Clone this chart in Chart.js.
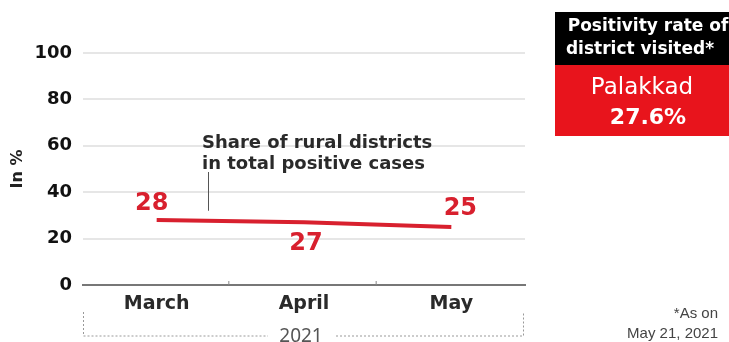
<!DOCTYPE html>
<html>
<head>
<meta charset="utf-8">
<script src="https://cdn.jsdelivr.net/npm/chart.js@4/dist/chart.umd.min.js"></script>
<style>
  html, body { margin: 0; padding: 0; background: #fff; }
  #wrap { width: 729px; height: 342px; position: relative; }
</style>
</head>
<body>
<div id="wrap"><canvas id="chart" width="729" height="342"></canvas></div>
<script>
// Share of rural districts in total positive cases, 2021
const months = ['March', 'April', 'May'];
const ruralShare = [28, 27, 25];
const yTicks = [0, 20, 40, 60, 80, 100];
const yearLabel = '2021';
const noteTitle = ['Positivity rate of', 'district visited*'];
const noteDistrict = 'Palakkad';
const noteRate = 27.6;
const footnote = ['*As on', 'May 21, 2021'];

const RED = '#d8202e';
const BOLD = '"DejaVu Sans", sans-serif';

// value labels: offsets per point (above / below the line)
const labelPlacement = [
    {dx: -5, dy: -10, base: 'alphabetic'},
    {dx: 2, dy: 9, base: 'top'},
    {dx: 9, dy: -12, base: 'alphabetic'},
];

const extras = {
    id: 'extras',
    afterDatasetsDraw(chart) {
        const {ctx, scales: {x, y}} = chart;
        const meta = chart.getDatasetMeta(0);
        ctx.save();

        // value labels
        ctx.fillStyle = RED;
        ctx.font = 'bold 24px ' + BOLD;
        ctx.textAlign = 'center';
        meta.data.forEach((pt, i) => {
            const p = labelPlacement[i];
            ctx.textBaseline = p.base;
            ctx.fillText(String(ruralShare[i]), pt.x + p.dx, pt.y + p.dy);
        });

        // small ticks on the baseline between months
        const base = y.getPixelForValue(0);
        ctx.strokeStyle = '#888';
        ctx.lineWidth = 1;
        for (let i = 0; i < months.length - 1; i++) {
            const bx = (x.getPixelForValue(i) + x.getPixelForValue(i + 1)) / 2 - 2;
            ctx.beginPath();
            ctx.moveTo(bx + 0.5, base);
            ctx.lineTo(bx + 0.5, base - 4);
            ctx.stroke();
        }

        // series annotation with leader line
        const ax = 208;
        ctx.fillStyle = '#2a2a2a';
        ctx.font = 'bold 18px ' + BOLD;
        ctx.textAlign = 'left';
        ctx.textBaseline = 'alphabetic';
        ctx.fillText('Share of rural districts', ax - 6, 148);
        ctx.fillText('in total positive cases', ax - 6, 169);
        ctx.strokeStyle = '#555';
        ctx.beginPath();
        ctx.moveTo(ax + 0.5, 172);
        ctx.lineTo(ax + 0.5, y.getPixelForValue(32));
        ctx.stroke();

        // year bracket under the months
        const bTop = 312, bBot = 336;
        const left = chart.chartArea.left, right = chart.chartArea.right - 2;
        const mid = x.getPixelForValue(1);
        ctx.strokeStyle = '#999';
        ctx.setLineDash([2, 2]);
        ctx.beginPath();
        ctx.moveTo(left + 0.5, bTop);
        ctx.lineTo(left + 0.5, bBot);
        ctx.lineTo(mid - 36, bBot);
        ctx.moveTo(mid + 32, bBot);
        ctx.lineTo(right + 0.5, bBot);
        ctx.lineTo(right + 0.5, bTop);
        ctx.stroke();
        ctx.setLineDash([]);
        ctx.fillStyle = '#555';
        ctx.font = '19px "Noto Sans", sans-serif';
        ctx.textAlign = 'center';
        ctx.textBaseline = 'alphabetic';
        ctx.fillText(yearLabel, mid - 3, 342);

        // side note box
        ctx.fillStyle = '#000';
        ctx.fillRect(555, 12, 174, 53);
        ctx.fillStyle = '#e8141c';
        ctx.fillRect(555, 65, 174, 71);
        ctx.fillStyle = '#fff';
        ctx.font = 'bold 17px ' + BOLD;
        ctx.fillText(noteTitle[0], 648, 31);
        ctx.fillText(noteTitle[1], 640, 54);
        ctx.font = '23px ' + BOLD;
        ctx.fillText(noteDistrict, 642, 94);
        ctx.font = 'bold 22px ' + BOLD;
        ctx.fillText(noteRate.toFixed(1) + '%', 648, 124);

        // footnote
        ctx.fillStyle = '#444';
        ctx.font = '15px "Liberation Sans Narrow", "Liberation Sans", sans-serif';
        ctx.textAlign = 'right';
        ctx.fillText(footnote[0], 718, 318);
        ctx.fillText(footnote[1], 718, 338);

        ctx.restore();
    }
};

new Chart(document.getElementById('chart'), {
    type: 'line',
    data: {
        labels: months,
        datasets: [{
            data: ruralShare,
            borderColor: RED,
            borderWidth: 4,
            pointRadius: 0,
            tension: 0,
        }],
    },
    options: {
        responsive: false,
        animation: false,
        events: [],
        layout: {padding: {left: 0, right: 204, top: 53, bottom: 0}},
        plugins: {legend: {display: false}, tooltip: {enabled: false}},
        scales: {
            x: {
                offset: true,
                grid: {display: false},
                border: {display: true, color: '#777', width: 2},
                ticks: {
                    color: '#2a2a2a',
                    padding: 0,
                    font: {family: BOLD, size: 19, weight: 'bold'},
                },
                afterFit: (scale) => { scale.height = 57; },
            },
            y: {
                min: 0,
                max: 100,
                afterBuildTicks: (scale) => { scale.ticks = yTicks.map(v => ({value: v})); },
                grid: {
                    color: (c) => c.tick && c.tick.value === 0 ? 'rgba(0,0,0,0)' : '#e6e6e6',
                    lineWidth: 2,
                    drawTicks: false,
                },
                border: {display: false},
                ticks: {
                    color: '#111',
                    padding: 11,
                    font: {family: BOLD, size: 18, weight: 'bold'},
                },
                title: {
                    display: true,
                    text: 'In %',
                    color: '#222',
                    padding: {top: 8, bottom: 0},
                    font: {family: BOLD, size: 16, weight: 'bold'},
                },
                afterFit: (scale) => { scale.width = 83; },
            },
        },
    },
    plugins: [extras],
});
</script>
</body>
</html>
